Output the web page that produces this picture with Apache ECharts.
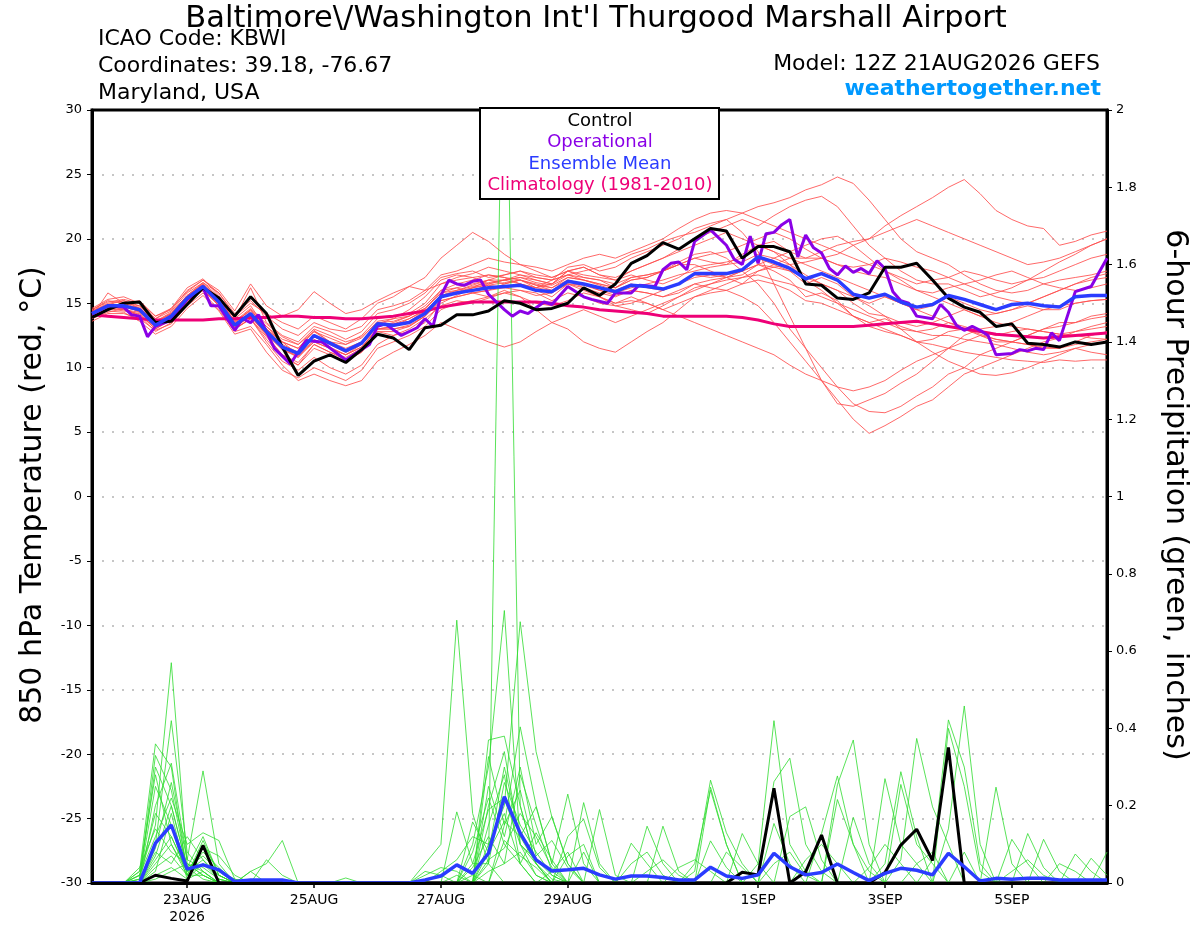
<!DOCTYPE html>
<html>
<head>
<meta charset="utf-8">
<title>KBWI GEFS 850 hPa temperature and 6-hour precipitation</title>
<script src="https://cdn.jsdelivr.net/npm/echarts@6.0.0/dist/echarts.min.js"></script>
<style>
  html, body { margin: 0; padding: 0; background: #fff; }
  #main { width: 1200px; height: 927px; }
</style>
</head>
<body>
<div id="main"></div>
<script>
// GEFS output every 6 hours from 12Z 21AUG2026 (hour 0) to hour 384
const STEP = 6;
const RUN_START = Date.UTC(2026, 7, 21, 12);
const MONTHS = ['JAN', 'FEB', 'MAR', 'APR', 'MAY', 'JUN', 'JUL', 'AUG', 'SEP', 'OCT', 'NOV', 'DEC'];
const tickHours = [36, 84, 132, 180, 252, 300, 348];

// 850 hPa temperature, deg C
const meanTemp = [14.2, 14.8, 14.8, 14.5, 13.3, 14.0, 15.4, 16.3, 15.1, 13.3, 14.2, 12.8, 11.6, 11.1,
  12.5, 11.9, 11.3, 11.9, 13.4, 13.3, 13.5, 14.2, 15.5, 15.8, 16.0, 16.2, 16.3, 16.4, 16.0, 15.9,
  16.7, 16.5, 16.2, 15.9, 16.4, 16.3, 16.1, 16.5, 17.3, 17.3, 17.3, 17.6, 18.6, 18.2, 17.7, 16.9,
  17.3, 16.8, 15.7, 15.4, 15.7, 15.1, 14.7, 14.9, 15.6, 15.3, 14.9, 14.5, 14.9, 15.0, 14.8, 14.7,
  15.5, 15.6, 15.6];
const controlTemp = [13.9, 14.5, 15.0, 15.1, 13.5, 13.6, 14.9, 16.2, 15.4, 14.0, 15.5, 14.2, 11.6, 9.4,
  10.5, 11.0, 10.4, 11.4, 12.6, 12.3, 11.4, 13.1, 13.3, 14.1, 14.1, 14.4, 15.2, 15.0, 14.5, 14.6,
  15.0, 16.2, 15.6, 16.5, 18.1, 18.7, 19.7, 19.2, 20.0, 20.8, 20.6, 18.5, 19.4, 19.4, 19.0, 16.5,
  16.4, 15.4, 15.3, 15.8, 17.8, 17.8, 18.1, 16.8, 15.4, 14.7, 14.3, 13.2, 13.4, 11.9, 11.8, 11.6,
  12.0, 11.8, 12.0];
const climTemp = [14.1, 14.0, 13.9, 13.8, 13.7, 13.7, 13.7, 13.7, 13.8, 13.8, 13.9, 13.9, 14.0, 14.0,
  13.9, 13.9, 13.8, 13.8, 13.9, 14.0, 14.2, 14.4, 14.7, 14.9, 15.1, 15.1, 15.1, 15.1, 15.1, 15.0,
  14.8, 14.7, 14.5, 14.4, 14.3, 14.2, 14.0, 14.0, 14.0, 14.0, 14.0, 13.9, 13.7, 13.4, 13.2, 13.2,
  13.2, 13.2, 13.2, 13.3, 13.4, 13.5, 13.6, 13.4, 13.2, 13.0, 12.8, 12.6, 12.5, 12.4, 12.3, 12.4,
  12.5, 12.6, 12.7];

// operational run, finer time steps
const operHours = [0, 6, 12, 15, 18, 21, 24, 30, 36, 42, 45, 48, 54, 57, 60, 63, 69, 75, 81, 87,
  96, 99, 105, 108, 111, 117, 123, 126, 129, 132, 135, 138, 141, 144, 147, 150, 156, 159, 162, 165,
  171, 174, 180, 186, 189, 195, 198, 204, 207, 213, 216, 219, 222, 225, 228, 234, 240, 243, 246, 249,
  252, 255, 258, 261, 264, 267, 270, 273, 276, 279, 282, 285, 288, 291, 294, 297, 300, 303, 306, 309,
  312, 318, 321, 324, 327, 330, 333, 336, 339, 342, 348, 351, 354, 357, 360, 363, 366, 372, 378, 384];
const operTemp = [14.2, 14.8, 14.7, 14.1, 14.0, 12.4, 13.2, 13.7, 15.3, 16.2, 14.8, 14.8, 12.9, 13.8, 13.5, 14.1, 11.5, 10.3, 12.1, 12.0,
  10.6, 11.0, 11.8, 13.2, 13.4, 12.5, 13.1, 13.8, 13.2, 15.6, 16.8, 16.5, 16.4, 16.7, 16.8, 15.7, 14.5, 14.0, 14.4, 14.2,
  15.1, 14.9, 16.3, 15.5, 15.3, 15.0, 15.8, 15.8, 16.4, 16.3, 17.6, 18.1, 18.2, 17.6, 19.8, 20.7, 19.5, 18.4, 18.0, 20.2,
  18.1, 20.4, 20.5, 21.1, 21.5, 18.6, 20.3, 19.3, 18.9, 17.7, 17.2, 17.9, 17.4, 17.7, 17.3, 18.3, 17.7, 15.9, 15.2, 15.0,
  14.0, 13.8, 14.9, 14.3, 13.3, 12.9, 13.2, 12.9, 12.5, 11.0, 11.1, 11.4, 11.3, 11.5, 11.4, 12.7, 12.1, 15.9, 16.3, 18.5];

// ensemble members, 850 hPa temperature
const memberTemps = [
  [14.5, 15.2, 15.0, 14.8, 13.8, 14.4, 15.8, 16.6, 15.5, 13.8, 14.8, 13.0, 12.0, 11.5, 12.9, 12.0, 11.8, 12.5, 13.8, 14.0, 14.2, 15.0, 16.5, 17.0, 17.3, 17.8, 17.5, 17.2, 16.8, 16.5, 17.5, 17.8, 17.2, 16.8, 17.5, 18.0, 18.5, 19.2, 20.0, 20.5, 21.0, 21.5, 21.0, 21.8, 22.5, 23.0, 23.3, 22.5, 21.0, 19.5, 18.5, 17.5, 16.8, 16.5, 16.5, 16.0, 15.5, 15.8, 16.2, 16.8, 17.0, 17.5, 18.0, 18.5, 18.8],
  [13.8, 14.3, 14.6, 14.0, 12.8, 13.5, 15.0, 16.0, 14.8, 13.0, 13.8, 12.0, 10.5, 9.8, 10.8, 10.0, 9.5, 10.2, 11.8, 12.5, 13.0, 13.8, 14.8, 15.2, 15.0, 15.4, 15.8, 15.5, 15.0, 14.8, 15.2, 15.8, 15.5, 15.0, 15.5, 15.0, 14.5, 15.0, 15.5, 15.8, 16.0, 15.5, 14.8, 13.5, 12.0, 10.5, 9.0, 7.5, 6.0, 4.9, 5.5, 6.2, 7.0, 7.5, 8.5, 9.5, 10.0, 10.5, 11.0, 11.5, 12.0, 12.3, 12.8, 13.2, 13.5],
  [14.0, 14.6, 14.4, 14.2, 13.0, 13.8, 15.2, 16.2, 15.0, 13.5, 14.5, 13.2, 12.0, 11.0, 12.0, 11.5, 11.0, 11.8, 13.0, 13.2, 13.8, 14.5, 16.0, 16.5, 16.8, 17.2, 17.0, 16.8, 16.2, 16.5, 17.5, 17.0, 16.8, 16.2, 17.0, 17.2, 17.5, 18.2, 18.8, 19.0, 18.5, 17.5, 16.5, 15.0, 13.0, 11.5, 10.0, 8.5, 7.2, 6.6, 6.5, 7.0, 7.8, 8.5, 9.5, 10.0, 11.0, 11.5, 12.0, 12.5, 13.0, 13.5, 13.5, 14.0, 14.2],
  [14.3, 14.9, 15.2, 14.6, 13.5, 14.2, 15.6, 16.5, 15.3, 13.6, 14.4, 13.2, 12.2, 11.8, 13.0, 12.5, 12.0, 12.4, 13.5, 13.6, 14.0, 14.6, 15.8, 16.0, 16.4, 16.8, 16.8, 17.0, 16.8, 16.5, 17.2, 17.0, 16.8, 16.5, 17.0, 17.2, 17.5, 18.0, 18.5, 18.2, 18.0, 18.8, 19.5, 19.8, 19.0, 18.5, 18.5, 18.8, 19.5, 20.0, 21.0, 21.8, 22.5, 23.2, 24.0, 24.6, 23.5, 22.2, 21.5, 21.0, 20.8, 19.5, 19.8, 20.3, 20.6],
  [14.0, 15.8, 15.0, 15.2, 14.0, 14.5, 16.0, 16.8, 15.8, 14.2, 15.2, 14.0, 13.0, 12.5, 13.5, 13.0, 12.8, 13.2, 14.5, 14.8, 15.2, 16.0, 17.2, 17.5, 18.0, 18.5, 18.2, 18.0, 17.8, 17.5, 18.0, 18.5, 18.8, 18.5, 19.0, 19.5, 20.0, 20.8, 21.5, 22.0, 22.2, 22.0, 21.5, 21.0, 20.5, 20.0, 19.5, 19.0, 18.5, 18.0, 17.5, 17.0, 16.5, 16.8, 17.0, 17.5, 17.2, 16.8, 16.5, 16.8, 17.5, 18.2, 18.8, 19.5, 20.0],
  [14.6, 15.3, 15.5, 15.0, 13.8, 14.6, 16.2, 16.9, 15.6, 13.8, 16.2, 13.5, 12.5, 12.0, 13.2, 12.8, 12.2, 12.8, 14.2, 14.5, 15.0, 15.8, 17.0, 17.3, 17.5, 17.0, 17.2, 17.5, 17.0, 16.8, 17.8, 18.0, 17.5, 17.8, 18.5, 19.0, 19.5, 20.0, 20.8, 21.2, 21.5, 22.0, 22.5, 22.8, 23.2, 23.8, 24.2, 24.8, 24.3, 23.0, 21.5, 20.0, 19.0, 18.5, 18.0, 17.2, 16.5, 16.0, 15.8, 16.0, 16.5, 16.8, 17.0, 17.2, 17.5],
  [14.2, 14.8, 14.5, 14.0, 13.2, 13.8, 15.5, 16.4, 15.2, 13.2, 14.0, 12.5, 11.0, 10.2, 11.5, 11.0, 10.5, 11.2, 12.8, 12.8, 13.2, 14.0, 15.2, 15.5, 15.8, 16.0, 16.2, 16.5, 16.0, 15.5, 16.5, 16.0, 15.5, 15.0, 15.2, 15.0, 14.5, 14.0, 13.5, 13.0, 12.5, 12.0, 11.5, 11.0, 10.2, 9.5, 9.0, 8.5, 8.2, 8.5, 9.0, 9.8, 10.5, 11.0, 11.5, 12.0, 12.5, 12.2, 12.0, 11.8, 11.5, 11.5, 12.0, 12.5, 12.8],
  [13.6, 14.2, 14.2, 13.8, 12.9, 13.4, 14.8, 15.8, 14.5, 12.8, 13.2, 11.8, 10.2, 9.0, 9.5, 9.0, 8.6, 9.0, 10.5, 11.2, 11.8, 12.5, 13.5, 13.0, 12.5, 12.0, 11.6, 12.0, 12.8, 13.5, 14.0, 14.5, 14.0, 13.5, 14.0, 14.5, 15.0, 15.5, 16.0, 16.5, 16.8, 17.0, 17.2, 16.8, 16.5, 16.0, 15.5, 15.0, 14.5, 14.0, 13.5, 13.0, 12.8, 12.5, 12.5, 12.2, 12.0, 11.8, 11.5, 11.2, 11.0, 11.2, 11.5, 11.8, 12.0],
  [14.1, 14.6, 14.9, 14.4, 13.4, 14.0, 15.3, 16.2, 15.4, 13.5, 14.5, 13.0, 11.8, 11.2, 12.5, 12.0, 11.5, 12.0, 13.2, 13.5, 14.0, 14.8, 16.0, 16.2, 15.8, 15.5, 16.0, 15.5, 14.5, 13.5, 13.0, 12.0, 11.5, 11.2, 12.0, 12.8, 13.5, 14.5, 15.5, 16.0, 16.5, 17.0, 17.5, 18.0, 18.5, 18.0, 17.5, 17.0, 16.5, 16.0, 15.5, 15.0, 14.5, 14.0, 13.5, 13.0, 12.5, 12.0, 12.0, 12.5, 13.0, 13.2, 13.5, 13.8, 14.0],
  [14.4, 15.0, 15.2, 14.8, 13.6, 14.3, 15.6, 16.6, 15.8, 14.0, 15.0, 14.2, 13.5, 13.0, 14.0, 13.5, 13.0, 13.8, 15.0, 15.5, 16.3, 17.0, 18.5, 19.5, 20.5, 19.8, 18.8, 18.0, 17.5, 17.0, 17.5, 17.8, 17.2, 17.0, 17.5, 18.0, 18.5, 19.0, 19.5, 20.0, 20.5, 20.0, 19.5, 19.0, 18.5, 18.5, 19.0, 19.5, 19.8, 20.0, 20.5, 21.0, 21.5, 21.0, 20.5, 20.0, 19.5, 19.0, 18.5, 18.0, 18.2, 18.5, 19.0, 19.5, 20.0],
  [14.2, 14.9, 14.7, 14.4, 13.2, 13.9, 15.2, 16.0, 15.0, 13.2, 14.0, 12.6, 11.4, 10.8, 12.2, 11.6, 11.0, 11.6, 13.0, 13.0, 13.3, 14.0, 15.2, 15.5, 15.8, 16.0, 16.5, 16.8, 16.5, 16.2, 17.0, 16.8, 16.4, 16.0, 16.5, 16.2, 16.0, 16.5, 17.2, 17.0, 17.2, 17.5, 18.5, 18.0, 17.5, 16.5, 17.0, 16.5, 15.5, 15.0, 15.5, 15.0, 14.5, 14.8, 15.5, 15.0, 14.5, 14.2, 14.5, 14.8, 14.5, 14.5, 15.0, 15.2, 15.3],
  [14.0, 14.5, 14.8, 14.7, 13.5, 14.2, 15.5, 16.2, 15.2, 13.0, 13.8, 12.2, 10.8, 10.2, 11.8, 11.2, 10.6, 11.2, 12.8, 12.5, 12.8, 13.5, 15.0, 15.6, 16.2, 16.8, 17.2, 17.5, 17.2, 17.0, 17.5, 17.2, 17.0, 16.8, 17.2, 16.8, 16.5, 17.0, 17.8, 18.0, 18.2, 18.5, 19.5, 19.0, 18.0, 16.8, 16.0, 15.0, 14.0, 13.2, 12.8, 12.5, 12.0, 12.2, 12.8, 13.0, 12.6, 12.2, 12.0, 11.8, 11.6, 11.5, 11.8, 12.0, 12.2],
  [14.3, 14.7, 14.6, 14.1, 13.0, 13.7, 15.2, 16.1, 14.8, 13.0, 13.8, 12.4, 11.0, 10.4, 11.8, 11.2, 10.8, 11.5, 13.0, 13.0, 13.2, 14.0, 15.5, 15.8, 16.2, 16.5, 16.8, 16.5, 16.2, 16.0, 16.8, 16.5, 16.0, 15.6, 16.0, 15.8, 15.5, 15.8, 16.5, 16.8, 17.0, 17.2, 18.0, 17.5, 16.8, 15.5, 15.8, 15.2, 14.0, 13.5, 13.8, 13.2, 12.8, 13.0, 13.5, 13.2, 12.8, 12.5, 12.8, 13.0, 12.8, 12.6, 12.8, 13.0, 13.2],
  [14.5, 15.1, 15.3, 15.0, 14.0, 14.6, 15.9, 16.8, 16.0, 14.4, 16.5, 14.8, 14.0, 14.5, 15.9, 15.0, 14.2, 14.5, 15.2, 15.8, 16.3, 16.0, 16.5, 16.8, 17.0, 17.2, 17.0, 16.5, 16.2, 16.8, 17.2, 16.8, 16.5, 16.2, 16.8, 17.0, 17.5, 18.0, 18.5, 18.8, 19.0, 19.5, 20.0, 20.5, 20.0, 19.2, 18.5, 18.0, 17.5, 17.2, 17.0, 16.5, 16.0, 15.8, 16.2, 16.5, 16.0, 15.5, 15.2, 15.0, 15.5, 16.0, 16.5, 17.0, 17.3],
  [13.9, 14.4, 14.3, 13.6, 12.6, 13.2, 14.6, 15.6, 14.4, 12.6, 13.0, 11.2, 9.8, 9.2, 10.0, 9.5, 9.0, 9.8, 11.5, 12.0, 12.5, 13.2, 14.5, 15.0, 15.2, 15.5, 15.8, 16.0, 15.8, 15.2, 15.8, 15.5, 15.0, 14.8, 15.0, 15.5, 16.0, 16.5, 17.0, 17.2, 17.0, 17.5, 18.0, 17.8, 17.5, 17.0, 16.5, 16.0, 15.0, 14.2, 14.0, 13.5, 13.2, 13.5, 14.0, 14.5, 14.0, 13.5, 13.2, 13.0, 12.8, 12.6, 12.5, 12.3, 12.2],
  [14.4, 14.9, 14.9, 14.5, 13.4, 14.1, 15.5, 16.4, 15.2, 13.4, 14.3, 13.0, 12.0, 11.5, 12.8, 12.3, 11.8, 12.3, 13.6, 13.8, 14.0, 14.6, 15.8, 16.2, 16.5, 16.8, 16.5, 16.8, 16.4, 16.0, 16.5, 16.4, 16.0, 15.8, 16.2, 16.5, 16.8, 17.2, 17.5, 17.8, 18.0, 18.2, 18.8, 18.5, 18.0, 17.2, 16.5, 16.0, 15.5, 14.8, 14.0, 13.0, 12.0, 11.2, 10.5, 10.0, 9.5, 9.4, 9.6, 10.0, 10.5, 11.0, 11.5, 11.2, 11.0],
  [14.1, 14.7, 15.0, 14.6, 13.6, 14.2, 15.6, 16.5, 15.4, 13.6, 14.6, 13.4, 12.4, 11.8, 12.8, 12.0, 11.4, 12.0, 13.4, 13.8, 14.5, 15.5, 16.8, 17.2, 17.0, 16.5, 16.8, 17.2, 17.0, 16.8, 17.2, 17.5, 17.8, 18.2, 18.8, 19.2, 19.8, 20.2, 20.5, 21.0, 21.5, 20.5, 19.0, 16.5, 14.0, 11.5, 9.0, 7.2, 7.0, 7.5, 8.0, 8.8, 9.5, 10.5, 11.5, 12.5, 13.0, 13.2, 13.5, 14.0, 14.5, 14.8, 15.0, 15.2, 15.3],
  [14.2, 14.6, 14.5, 14.3, 13.3, 13.8, 15.1, 16.0, 14.9, 13.3, 14.2, 12.8, 11.6, 10.8, 12.0, 11.5, 11.0, 11.6, 13.0, 13.2, 13.5, 14.2, 15.5, 15.8, 16.0, 16.4, 16.2, 16.0, 15.6, 15.8, 16.5, 16.2, 15.8, 15.5, 16.0, 15.8, 15.5, 16.0, 16.5, 16.2, 16.0, 16.5, 17.5, 17.8, 18.0, 18.2, 18.5, 18.0, 17.8, 18.0, 18.5, 18.2, 17.8, 17.5, 17.0, 16.5, 16.8, 17.2, 17.5, 17.0, 16.5, 16.2, 16.0, 16.2, 16.5],
  [14.0, 14.8, 14.9, 14.3, 13.1, 13.9, 15.3, 16.3, 15.1, 13.1, 14.0, 12.6, 11.4, 10.9, 12.4, 11.8, 11.2, 11.8, 13.4, 13.4, 13.6, 14.4, 15.6, 15.9, 16.2, 16.4, 16.6, 16.8, 16.4, 16.2, 16.8, 16.2, 15.5, 14.8, 14.5, 14.2, 14.8, 15.5, 16.2, 16.5, 17.0, 17.5, 18.0, 18.5, 19.0, 19.5, 20.0, 20.2, 19.5, 18.5, 17.5, 16.8, 16.0, 15.5, 15.0, 14.5, 14.0, 14.2, 14.5, 15.0, 15.5, 16.0, 16.5, 16.8, 17.0],
  [14.3, 14.8, 14.7, 14.4, 13.2, 14.0, 15.4, 16.3, 15.0, 13.2, 14.1, 12.7, 11.5, 11.0, 12.4, 11.8, 11.2, 11.8, 13.2, 13.4, 13.8, 14.4, 15.6, 16.0, 16.3, 16.6, 16.8, 17.0, 16.6, 16.4, 17.0, 16.8, 16.5, 16.2, 16.8, 17.0, 17.5, 18.0, 18.0, 17.5, 17.0, 16.5, 16.8, 16.5, 16.0, 15.2, 15.0, 14.5, 14.0, 13.5, 13.0, 12.5, 12.0, 11.8, 11.5, 11.2, 11.0, 10.8, 10.6, 10.5, 10.4, 10.6, 10.5, 10.6, 10.6]
];

// 6-hour precipitation, inches
const meanPrecip = [0, 0, 0, 0, 0.103, 0.15, 0.036, 0.047, 0.034, 0.004, 0.008, 0.008, 0.008, 0,
  0, 0, 0, 0, 0, 0, 0, 0.008, 0.018, 0.047, 0.025, 0.077, 0.223, 0.129, 0.06, 0.031,
  0.034, 0.038, 0.021, 0.01, 0.018, 0.018, 0.014, 0.008, 0.008, 0.041, 0.018, 0.012, 0.021, 0.077, 0.042, 0.021,
  0.027, 0.049, 0.027, 0.006, 0.025, 0.038, 0.033, 0.021, 0.077, 0.042, 0.005, 0.012, 0.01, 0.012, 0.012, 0.008,
  0.008, 0.008, 0.008];
const controlPrecip = [0, 0, 0, 0, 0.02, 0.012, 0.005, 0.097, 0, 0, 0, 0, 0, 0,
  0, 0, 0, 0, 0, 0, 0, 0, 0, 0, 0, 0, 0, 0, 0, 0,
  0, 0, 0, 0, 0, 0, 0, 0, 0, 0, 0, 0.028, 0.021, 0.245, 0, 0.029,
  0.124, 0, 0, 0, 0.027, 0.098, 0.139, 0.058, 0.351, 0, 0, 0, 0, 0, 0, 0,
  0, 0, 0];
const memberPrecip = [
  [0, 0, 0, 0.02, 0.15, 0.57, 0.05, 0.02, 0, 0, 0, 0, 0, 0, 0, 0, 0, 0, 0, 0, 0, 0, 0, 0, 0.1, 0.3, 0.705, 0.1, 0.02, 0, 0, 0, 0, 0, 0, 0, 0, 0, 0, 0.248, 0.1, 0, 0, 0, 0, 0, 0, 0, 0, 0, 0, 0, 0, 0, 0, 0, 0, 0.248, 0.05, 0, 0, 0, 0, 0, 0],
  [0, 0, 0, 0, 0.1, 0.42, 0.08, 0.03, 0, 0, 0, 0, 0, 0, 0, 0, 0, 0, 0, 0, 0, 0, 0, 0, 0.05, 0.05, 2.5, 0.2, 0.05, 0, 0, 0, 0, 0, 0, 0, 0, 0, 0, 0, 0, 0, 0.05, 0.42, 0.1, 0.03, 0, 0, 0, 0, 0, 0, 0, 0, 0, 0, 0, 0, 0, 0, 0, 0, 0, 0, 0],
  [0, 0, 0, 0.03, 0.36, 0.3, 0.02, 0.05, 0.01, 0, 0.03, 0.05, 0.11, 0, 0, 0, 0, 0, 0, 0, 0, 0, 0, 0, 0, 0.1, 0.2, 0.676, 0.34, 0.17, 0.05, 0, 0, 0, 0, 0, 0, 0, 0, 0, 0, 0, 0, 0.262, 0.323, 0.1, 0.03, 0, 0, 0, 0, 0, 0, 0, 0, 0, 0, 0, 0.03, 0.06, 0.02, 0, 0, 0, 0],
  [0, 0, 0, 0.01, 0.33, 0.24, 0.04, 0.12, 0.02, 0, 0, 0, 0, 0, 0, 0, 0, 0, 0, 0, 0, 0, 0, 0, 0, 0.37, 0.38, 0.2, 0.05, 0, 0, 0, 0, 0, 0.103, 0.05, 0, 0, 0, 0, 0, 0, 0, 0, 0, 0, 0, 0, 0, 0, 0, 0, 0, 0, 0, 0, 0, 0, 0.113, 0.05, 0, 0, 0, 0, 0],
  [0, 0, 0, 0, 0.2, 0.31, 0.06, 0.29, 0.05, 0, 0, 0, 0, 0, 0, 0, 0, 0, 0, 0, 0, 0.05, 0.1, 0.68, 0.18, 0.05, 0, 0, 0, 0, 0, 0, 0, 0, 0, 0.147, 0.05, 0, 0, 0, 0, 0, 0, 0.154, 0.05, 0, 0, 0, 0, 0, 0, 0, 0, 0, 0, 0, 0, 0, 0, 0.128, 0.04, 0, 0, 0, 0],
  [0, 0, 0, 0.02, 0.12, 0.22, 0.1, 0.13, 0.11, 0.01, 0, 0, 0, 0, 0, 0, 0, 0, 0, 0, 0, 0, 0, 0, 0, 0.327, 0.15, 0.404, 0.2, 0.05, 0.23, 0.05, 0, 0, 0, 0, 0, 0, 0, 0, 0.08, 0.04, 0, 0, 0.172, 0.197, 0.06, 0, 0, 0, 0, 0, 0, 0, 0, 0, 0, 0, 0, 0, 0.113, 0.03, 0, 0, 0],
  [0, 0, 0, 0, 0.05, 0.1, 0.03, 0.08, 0.04, 0, 0, 0.06, 0.02, 0, 0, 0, 0, 0, 0, 0, 0, 0, 0, 0.184, 0.05, 0.19, 0.22, 0.1, 0.06, 0.02, 0, 0.208, 0.05, 0, 0, 0, 0, 0, 0, 0, 0, 0, 0, 0, 0, 0, 0.128, 0.277, 0.1, 0, 0, 0, 0, 0, 0, 0, 0, 0, 0, 0, 0, 0, 0, 0, 0],
  [0, 0, 0, 0.01, 0.25, 0.15, 0.01, 0.03, 0, 0, 0, 0, 0, 0, 0, 0, 0, 0, 0, 0, 0, 0, 0, 0, 0.158, 0.08, 0.3, 0.12, 0.197, 0.05, 0, 0, 0.19, 0.02, 0, 0, 0, 0, 0, 0, 0, 0, 0, 0, 0, 0, 0, 0.254, 0.37, 0.1, 0, 0, 0, 0, 0, 0, 0, 0, 0, 0, 0, 0, 0, 0, 0],
  [0, 0, 0, 0, 0.08, 0.05, 0.12, 0.06, 0.02, 0, 0.03, 0, 0, 0, 0, 0, 0, 0, 0, 0, 0, 0, 0, 0, 0, 0.25, 0.12, 0.3, 0.1, 0.172, 0.05, 0, 0, 0, 0, 0, 0, 0.04, 0.06, 0.03, 0, 0, 0, 0, 0, 0, 0, 0.216, 0.1, 0.03, 0, 0, 0, 0, 0, 0, 0, 0, 0, 0, 0, 0, 0, 0, 0],
  [0, 0, 0, 0, 0.03, 0.18, 0.02, 0.1, 0.03, 0.01, 0, 0, 0, 0, 0, 0, 0, 0, 0, 0, 0, 0, 0.03, 0.06, 0.12, 0.1, 0.18, 0.05, 0, 0, 0.12, 0.165, 0.04, 0, 0, 0, 0, 0, 0, 0, 0, 0, 0, 0, 0, 0, 0, 0, 0.17, 0.05, 0, 0, 0, 0, 0, 0, 0, 0, 0, 0, 0, 0, 0.075, 0.03, 0],
  [0, 0, 0, 0.04, 0.14, 0.08, 0.05, 0.02, 0, 0, 0, 0, 0, 0, 0, 0, 0, 0, 0, 0, 0, 0, 0, 0, 0, 0.05, 0.26, 0.15, 0.08, 0.02, 0, 0, 0, 0, 0, 0, 0.147, 0.03, 0, 0, 0, 0, 0, 0, 0, 0, 0, 0, 0, 0, 0.27, 0.1, 0.05, 0, 0, 0, 0, 0, 0, 0, 0, 0, 0, 0.064, 0.02],
  [0, 0, 0, 0, 0.06, 0.12, 0.03, 0.09, 0.07, 0.02, 0, 0, 0, 0, 0, 0, 0, 0, 0, 0, 0, 0.03, 0.02, 0, 0.08, 0.22, 0.1, 0.05, 0.13, 0.06, 0, 0, 0, 0, 0.05, 0.08, 0.02, 0, 0, 0, 0, 0, 0, 0, 0, 0, 0, 0, 0, 0, 0.05, 0.288, 0.12, 0, 0, 0, 0, 0, 0, 0, 0, 0, 0, 0, 0.08],
  [0, 0, 0, 0, 0.02, 0.04, 0.01, 0.05, 0.02, 0, 0, 0, 0, 0, 0, 0, 0, 0, 0, 0, 0, 0, 0, 0, 0, 0, 0.15, 0.24, 0.07, 0.11, 0.04, 0, 0, 0, 0, 0.03, 0.06, 0.02, 0, 0, 0, 0, 0, 0, 0, 0, 0, 0, 0, 0, 0, 0.255, 0.1, 0.05, 0, 0, 0, 0, 0, 0, 0, 0.05, 0.03, 0, 0],
  [0, 0, 0, 0.01, 0.3, 0.2, 0.04, 0.01, 0, 0, 0, 0, 0, 0, 0, 0, 0, 0, 0, 0, 0, 0, 0, 0, 0.04, 0.12, 0.05, 0.08, 0.02, 0, 0, 0, 0, 0, 0, 0, 0, 0, 0.03, 0.266, 0.13, 0.05, 0, 0, 0, 0, 0, 0, 0, 0, 0, 0.06, 0.374, 0.197, 0.1, 0, 0, 0, 0, 0, 0, 0, 0, 0, 0],
  [0, 0, 0, 0, 0.09, 0.26, 0.06, 0.04, 0.01, 0, 0, 0, 0, 0, 0, 0, 0, 0, 0, 0, 0, 0, 0, 0, 0, 0.2, 0.34, 0.1, 0.05, 0.01, 0, 0, 0, 0, 0, 0, 0, 0, 0.05, 0.24, 0.1, 0, 0, 0, 0, 0, 0, 0, 0, 0, 0, 0, 0, 0.06, 0.422, 0.3, 0.05, 0, 0, 0, 0, 0, 0, 0, 0],
  [0, 0, 0, 0, 0.04, 0.07, 0.02, 0.11, 0.02, 0, 0, 0, 0, 0, 0, 0, 0.013, 0, 0, 0, 0, 0, 0, 0.02, 0, 0.06, 0.09, 0.18, 0.12, 0.04, 0, 0.08, 0, 0, 0, 0, 0, 0, 0, 0, 0, 0, 0, 0, 0, 0, 0, 0, 0, 0, 0, 0, 0, 0, 0.4, 0.25, 0.03, 0, 0, 0, 0, 0, 0, 0, 0],
  [0, 0, 0, 0.02, 0.18, 0.12, 0.03, 0.06, 0.01, 0, 0, 0, 0, 0, 0, 0, 0, 0, 0, 0, 0, 0, 0, 0, 0, 0.15, 0.28, 0.05, 0, 0.03, 0.08, 0, 0, 0, 0, 0, 0, 0, 0, 0.109, 0.04, 0, 0, 0, 0, 0, 0, 0, 0, 0, 0, 0, 0, 0, 0.14, 0.458, 0.1, 0, 0, 0, 0, 0, 0, 0, 0],
  [0, 0, 0, 0, 0.01, 0.03, 0.05, 0.03, 0, 0, 0, 0, 0, 0, 0, 0, 0, 0, 0, 0, 0, 0, 0, 0, 0.02, 0, 0.11, 0.07, 0.04, 0, 0, 0, 0, 0, 0, 0, 0, 0, 0, 0, 0, 0, 0, 0.05, 0.08, 0.02, 0, 0, 0, 0, 0, 0, 0.05, 0.08, 0, 0, 0, 0, 0, 0, 0, 0, 0, 0, 0],
  [0, 0, 0, 0.03, 0.28, 0.1, 0.02, 0.02, 0, 0, 0, 0, 0, 0, 0, 0, 0, 0, 0, 0, 0, 0, 0, 0, 0, 0.03, 0.05, 0.28, 0.15, 0.03, 0, 0, 0, 0, 0, 0, 0, 0, 0, 0, 0, 0.128, 0.05, 0, 0, 0, 0, 0, 0, 0.04, 0.1, 0.05, 0, 0, 0, 0, 0, 0, 0, 0, 0, 0, 0, 0, 0],
  [0, 0, 0, 0, 0.07, 0.2, 0.04, 0.07, 0.03, 0, 0, 0, 0, 0, 0, 0, 0, 0, 0, 0, 0, 0.02, 0.04, 0.03, 0, 0.08, 0.16, 0.12, 0.05, 0, 0.07, 0.1, 0, 0, 0, 0, 0, 0, 0, 0, 0, 0, 0, 0, 0, 0.06, 0.1, 0.05, 0, 0, 0, 0, 0, 0, 0, 0.08, 0, 0, 0, 0, 0, 0, 0, 0, 0]
];

const FONT = 'DejaVu Sans';
const COLORS = {
  member: '#ff4d4d',
  precip: '#2edc2e',
  control: '#000000',
  oper: '#8a00e6',
  mean: '#2a3cff',
  clim: '#ee0077'
};

function pairs(values) {
  return values.map(function (v, i) { return [i * STEP, v]; });
}

function dateLabel(h) {
  const d = new Date(RUN_START + h * 3600 * 1000);
  const s = d.getUTCDate() + MONTHS[d.getUTCMonth()];
  return h === tickHours[0] ? s + '\n' + d.getUTCFullYear() : s;
}

function line(name, data, axis, color, width) {
  return {
    name: name,
    type: 'line',
    yAxisIndex: axis,
    data: data,
    symbol: 'none',
    showSymbol: false,
    silent: true,
    lineStyle: { color: color, width: width },
    emphasis: { disabled: true }
  };
}

function text(x, y, str, size, color, align, extra, weight) {
  return Object.assign({
    type: 'text',
    x: x,
    y: y,
    z: 101,
    silent: true,
    style: {
      text: str,
      fill: color,
      fontSize: size,
      fontFamily: FONT,
      fontWeight: weight || 'normal',
      align: align,
      textAlign: align,
      verticalAlign: 'middle',
      textVerticalAlign: 'middle'
    }
  }, extra || {});
}

let series = [];
memberTemps.forEach(function (m, k) {
  series.push(line('temp member ' + (k + 1), pairs(m), 0, COLORS.member, 0.85));
});
memberPrecip.forEach(function (m, k) {
  series.push(line('precip member ' + (k + 1), pairs(m), 1, COLORS.precip, 0.8));
});
series.push(line('Control precip', pairs(controlPrecip), 1, COLORS.control, 3));
series.push(line('Mean precip', pairs(meanPrecip), 1, COLORS.mean, 3.5));
series.push(line('Climatology (1981-2010)', pairs(climTemp), 0, COLORS.clim, 3));
series.push(line('Operational', operHours.map(function (h, i) { return [h, operTemp[i]]; }), 0, COLORS.oper, 3));
series.push(line('Control', pairs(controlTemp), 0, COLORS.control, 3));
series.push(line('Ensemble Mean', pairs(meanTemp), 0, COLORS.mean, 3.5));

const chart = echarts.init(document.getElementById('main'), null, { renderer: 'canvas' });

chart.setOption({
  animation: false,
  backgroundColor: '#ffffff',
  textStyle: { fontFamily: FONT, color: '#000' },
  grid: {
    left: 92, top: 110, width: 1015, height: 773,
    containLabel: false,
    outerBoundsMode: 'none',
    show: true,
    z: 3,
    borderColor: '#000',
    borderWidth: 3,
    backgroundColor: 'transparent'
  },
  xAxis: {
    type: 'value',
    min: 0,
    max: 384,
    z: 10,
    axisLine: { show: true, onZero: false, lineStyle: { color: '#000', width: 3 } },
    axisTick: {
      show: true, inside: false, length: 5,
      customValues: tickHours,
      lineStyle: { color: '#000', width: 1.5 }
    },
    axisLabel: {
      show: true,
      customValues: tickHours,
      formatter: dateLabel,
      color: '#000',
      fontSize: 14,
      fontFamily: FONT,
      lineHeight: 17,
      margin: 9
    },
    splitLine: { show: false }
  },
  yAxis: [
    {
      type: 'value',
      position: 'left',
      min: -30,
      max: 30,
      interval: 5,
      axisLine: { show: true, lineStyle: { color: '#000', width: 3 } },
      axisTick: { show: true, length: 5, lineStyle: { color: '#000', width: 1 } },
      axisLabel: { color: '#000', fontSize: 13, fontFamily: FONT, margin: 10 },
      splitLine: {
        show: true, showMinLine: false, showMaxLine: false,
        lineStyle: { color: '#b4b4b4', width: 1.5, type: [2, 8] }
      }
    },
    {
      type: 'value',
      position: 'right',
      min: 0,
      max: 2,
      interval: 0.2,
      axisLine: { show: true, lineStyle: { color: '#000', width: 3 } },
      axisTick: { show: true, length: 5, lineStyle: { color: '#000', width: 1 } },
      axisLabel: { color: '#000', fontSize: 13, fontFamily: FONT, margin: 9 },
      splitLine: { show: false }
    }
  ],
  graphic: [
    text(596, 19, 'Baltimore\\/Washington Int\'l Thurgood Marshall Airport', 30.5, '#000', 'center'),
    text(98, 39, 'ICAO Code: KBWI', 22, '#000', 'left'),
    text(98, 66, 'Coordinates: 39.18, -76.67', 22, '#000', 'left'),
    text(98, 93, 'Maryland, USA', 22, '#000', 'left'),
    text(1100, 64, 'Model: 12Z 21AUG2026 GEFS', 22, '#000', 'right'),
    text(1101, 89, 'weathertogether.net', 22, '#0099ff', 'right', null, 'bold'),
    text(33, 495, '850 hPa Temperature (red, °C)', 30, '#000', 'center', { rotation: Math.PI / 2 }),
    text(1175, 495, '6-hour Precipitation (green, inches)', 30, '#000', 'center', { rotation: -Math.PI / 2 }),
    {
      type: 'rect',
      z: 100,
      silent: true,
      shape: { x: 480, y: 108, width: 239, height: 91 },
      style: { fill: '#fff', stroke: '#000', lineWidth: 2 }
    },
    text(600, 121, 'Control', 18, COLORS.control, 'center'),
    text(600, 142.5, 'Operational', 18, COLORS.oper, 'center'),
    text(600, 164, 'Ensemble Mean', 18, COLORS.mean, 'center'),
    text(600, 185.5, 'Climatology (1981-2010)', 18, COLORS.clim, 'center')
  ],
  series: series
});
</script>
</body>
</html>
